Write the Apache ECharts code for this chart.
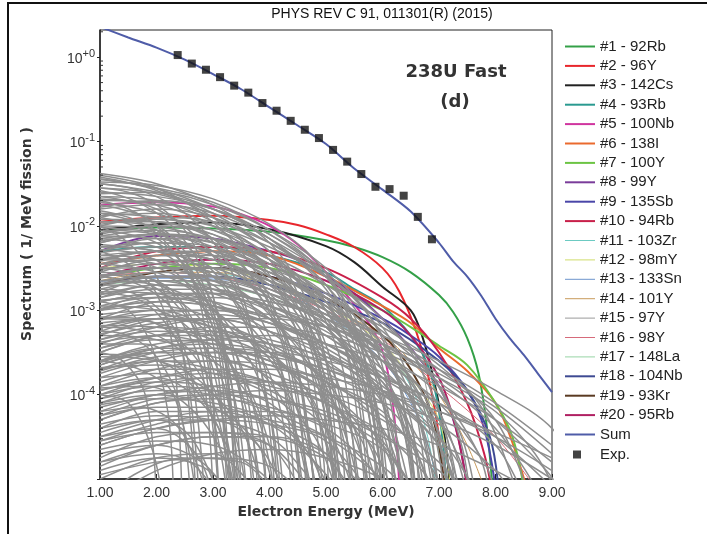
<!DOCTYPE html>
<html>
<head>
<meta charset="utf-8">
<script src="https://cdn.jsdelivr.net/npm/echarts@6/dist/echarts.min.js"></script>
<style>html,body{margin:0;padding:0;background:#fff}#c{width:707px;height:534px}</style>
</head>
<body>
<div id="c"></div>
<script>
// ---------- data (y given as log10 of spectrum) ----------
const xTicks = [1, 2, 3, 4, 5, 6, 7, 8, 9];
const yTickExponents = [-4, -3, -2, -1, 0];

const sumEnergy = [1, 1.5, 2, 2.5, 3, 3.5, 4, 4.5, 5, 5.5, 6, 6.5, 7, 7.25, 7.5, 7.75, 8, 8.25, 8.5, 8.75, 9];
const sumLog = [0.36, 0.233, 0.113, -0.03, -0.2, -0.38, -0.595, -0.81, -1.03, -1.32, -1.57, -1.83, -2.2, -2.42, -2.6, -2.83, -3.1, -3.33, -3.53, -3.75, -3.97];

const expEnergy = [2.375, 2.625, 2.875, 3.125, 3.375, 3.625, 3.875, 4.125, 4.375, 4.625, 4.875, 5.125, 5.375, 5.625, 5.875, 6.125, 6.375, 6.625, 6.875];
const expValue = [1.06, 0.84, 0.71, 0.58, 0.46, 0.38, 0.286, 0.232, 0.176, 0.138, 0.11, 0.0796, 0.0578, 0.0412, 0.0291, 0.0273, 0.0228, 0.0128, 0.00694];

const nuclideNames = ['#1 - 92Rb', '#2 - 96Y', '#3 - 142Cs', '#4 - 93Rb', '#5 - 100Nb', '#6 - 138I', '#7 - 100Y', '#8 - 99Y', '#9 - 135Sb', '#10 - 94Rb',
  '#11 - 103Zr', '#12 - 98mY', '#13 - 133Sn', '#14 - 101Y', '#15 - 97Y', '#16 - 98Y', '#17 - 148La', '#18 - 104Nb', '#19 - 93Kr', '#20 - 95Rb'];
const nuclideColors = ['#34a048', '#e8262c', '#222222', '#2a9a90', '#d0359f', '#ea6a2e', '#6cc444', '#7a3c9a', '#4a46a8', '#c8204a',
  '#6ccac2', '#cfdc6a', '#6c94cc', '#c89a5a', '#9a9a9a', '#d66a7a', '#96d4a4', '#3e4a92', '#5a3a22', '#b02062'];
const nuclideWidths = [2, 2, 2, 2, 2, 2, 2, 2, 2, 2, 1, 1, 1, 1, 1, 1, 1, 2, 2, 2];

const n01 = [[1,-2.05],[2,-2.02],[3,-2.03],[4,-2.07],[5,-2.17],[5.5,-2.25],[6,-2.37],[6.5,-2.55],[7,-2.82],[7.25,-3.02],[7.5,-3.33],[7.7,-3.75],[7.85,-4.4],[7.97,-5.3]];
const n02 = [[1,-1.95],[2,-1.9],[3,-1.88],[4,-1.93],[4.5,-1.99],[5,-2.1],[5.5,-2.25],[6,-2.5],[6.3,-2.78],[6.6,-3.26],[6.8,-3.75],[7.0,-4.5],[7.1,-5.3]];
const n03 = [[1,-2.05],[2,-1.98],[3,-1.96],[4,-2.04],[5,-2.24],[5.5,-2.43],[6,-2.72],[6.5,-3.0],[6.7,-3.3],[6.9,-3.8],[7.1,-4.5],[7.22,-5.3]];
const n04 = [[1,-2.3],[2,-2.25],[3,-2.25],[4,-2.35],[5,-2.55],[5.5,-2.75],[6,-2.95],[6.5,-3.3],[6.8,-3.65],[7.0,-4.2],[7.15,-5.2]];
const n05 = [[1,-1.75],[2,-1.72],[3,-1.77],[3.5,-1.86],[4,-2.0],[4.5,-2.22],[5,-2.55],[5.5,-2.93],[5.85,-3.25],[6.05,-3.6],[6.2,-4.2],[6.3,-5.1]];
const n06 = [[1,-2.45],[2,-2.35],[3,-2.3],[4,-2.35],[5,-2.6],[6,-2.95],[6.5,-3.15],[7,-3.45],[7.5,-3.72],[8,-4.1],[8.3,-4.57],[8.55,-5.1]];
const n07 = [[1,-2.6],[2,-2.5],[3,-2.45],[4,-2.5],[5,-2.7],[6,-3.0],[6.5,-3.2],[7,-3.42],[7.5,-3.65],[8,-4.1],[8.3,-4.5],[8.5,-5.1]];
const n08 = [[1,-2.3],[2,-2.12],[3,-2.15],[4,-2.3],[4.5,-2.4],[5,-2.6],[5.5,-2.8],[6,-3.1],[6.5,-3.45],[7,-3.9],[7.3,-4.4],[7.5,-5.1]];
const n09 = [[1,-2.6],[2,-2.5],[3,-2.5],[4,-2.6],[5,-2.8],[6,-3.1],[6.5,-3.3],[7,-3.55],[7.5,-3.95],[7.8,-4.4],[8.0,-5.1]];
const n10 = [[1,-2.5],[2,-2.3],[3,-2.25],[4,-2.3],[5,-2.5],[6,-2.85],[6.5,-3.1],[7,-3.5],[7.5,-4.1],[7.8,-4.7],[7.95,-5.2]];
const n11 = [[1,-2.6],[2,-2.5],[3,-2.55],[4,-2.7],[5,-3.0],[6,-3.5],[6.5,-3.9],[6.8,-4.5],[6.95,-5.1]];
const n12 = [[1,-2.5],[2,-2.45],[3,-2.5],[4,-2.65],[5,-2.95],[6,-3.4],[6.5,-3.8],[7,-4.3],[7.2,-5.1]];
const n13 = [[1,-2.66],[2,-2.62],[3,-2.63],[4,-2.75],[5,-3.05],[6,-3.6],[6.5,-4.1],[6.8,-4.6],[7.0,-5.1]];
const n14 = [[1,-2.65],[2,-2.55],[3,-2.55],[4,-2.7],[5,-2.95],[6,-3.3],[6.5,-3.6],[7,-4.0],[7.5,-4.6],[7.8,-5.1]];
const n15 = [[1,-2.7],[2,-2.6],[3,-2.6],[4,-2.7],[5,-2.9],[6,-3.2],[6.5,-3.45],[6.8,-4.0],[6.95,-5.1]];
const n16 = [[1,-2.6],[2,-2.55],[3,-2.6],[4,-2.75],[5,-3.0],[6,-3.35],[7,-3.9],[8,-4.5],[8.7,-5.1]];
const n17 = [[1,-2.7],[2,-2.65],[3,-2.7],[4,-2.85],[5,-3.1],[6,-3.5],[6.5,-3.85],[6.9,-4.4],[7.1,-5.1]];
const n18 = [[1,-2.7],[2,-2.6],[3,-2.6],[4,-2.7],[5,-2.9],[6,-3.15],[7,-3.6],[7.5,-3.95],[7.9,-4.5],[8.05,-5.1]];
const n19 = [[1,-2.7],[2,-2.55],[3,-2.5],[4,-2.6],[5,-2.85],[6,-3.3],[6.5,-3.7],[6.9,-4.3],[7.1,-5.1]];
const n20 = [[1,-2.6],[2,-2.45],[3,-2.4],[4,-2.45],[5,-2.65],[6,-3.0],[6.5,-3.3],[7.0,-3.8],[7.3,-4.4],[7.5,-5.1]];
const nuclideCurves = [n01,n02,n03,n04,n05,n06,n07,n08,n09,n10,n11,n12,n13,n14,n15,n16,n17,n18,n19,n20];

// other fission products (grey mesh)
const greyCurves = [
 [[1,-1.38],[2,-1.5],[3,-1.75],[4,-2.2],[4.6,-2.8],[5,-3.6],[5.25,-5.2]],
 [[1,-1.45],[2,-1.55],[3,-1.72],[4,-2.05],[5,-2.6],[5.6,-3.4],[5.9,-4.5],[6.0,-5.2]],
 [[1,-1.5],[1.8,-1.6],[2.6,-1.9],[3.3,-2.5],[3.7,-3.3],[3.95,-5.2]],
 [[1,-1.55],[2,-1.62],[3,-1.85],[4,-2.3],[5,-3.0],[5.5,-3.8],[5.75,-5.2]],
 [[1,-1.6],[2,-1.65],[3,-1.8],[4,-2.1],[5,-2.55],[6,-3.3],[6.4,-4.2],[6.6,-5.2]],
 [[1,-1.65],[2,-1.8],[2.8,-2.2],[3.5,-2.9],[3.9,-3.9],[4.1,-5.2]],
 [[1,-1.7],[2,-1.72],[3,-1.95],[4,-2.4],[4.8,-3.2],[5.2,-4.2],[5.35,-5.2]],
 [[1,-1.8],[2,-1.75],[3,-1.85],[4,-2.15],[5,-2.6],[5.8,-3.3],[6.2,-4.3],[6.35,-5.2]],
 [[1,-1.75],[1.8,-1.9],[2.5,-2.3],[3,-3.0],[3.3,-4.0],[3.45,-5.2]],
 [[1,-1.9],[2,-1.8],[3,-1.9],[4,-2.2],[5,-2.7],[5.6,-3.5],[5.9,-4.6],[6.0,-5.2]],
 [[1,-1.95],[2,-2.0],[3,-2.2],[3.8,-2.7],[4.4,-3.5],[4.7,-4.6],[4.8,-5.2]],
 [[1,-2.0],[2,-1.9],[3,-1.95],[4,-2.2],[5,-2.6],[6,-3.2],[6.5,-3.9],[6.8,-5.2]],
 [[1,-2.05],[2,-2.2],[2.8,-2.7],[3.3,-3.4],[3.6,-4.5],[3.7,-5.2]],
 [[1,-2.1],[2,-2.0],[3,-2.05],[4,-2.35],[5,-2.9],[5.5,-3.6],[5.8,-5.2]],
 [[1,-2.2],[2,-2.1],[3,-2.2],[4,-2.5],[4.8,-3.1],[5.3,-4.2],[5.45,-5.2]],
 [[1,-2.25],[2,-2.3],[2.6,-2.6],[3.1,-3.2],[3.4,-4.2],[3.5,-5.2]],
 [[1,-2.3],[2,-2.15],[3,-2.2],[4,-2.45],[5,-2.85],[6,-3.5],[6.5,-4.3],[6.65,-5.2]],
 [[1,-2.4],[2,-2.3],[3,-2.4],[4,-2.7],[4.7,-3.3],[5.1,-4.4],[5.2,-5.2]],
 [[1,-2.5],[1.8,-2.6],[2.4,-2.9],[2.8,-3.5],[3.0,-4.4],[3.1,-5.2]],
 [[1,-2.5],[2,-2.35],[3,-2.35],[4,-2.55],[5,-2.9],[6,-3.4],[6.8,-4.2],[7.1,-5.2]],
 [[1,-2.6],[2,-2.5],[3,-2.55],[4,-2.85],[4.6,-3.4],[4.9,-4.4],[5.0,-5.2]],
 [[1,-2.7],[2,-2.55],[3,-2.6],[4,-2.8],[5,-3.2],[5.8,-3.9],[6.1,-5.2]],
 [[1,-2.75],[1.6,-2.8],[2.2,-3.1],[2.6,-3.7],[2.85,-5.2]],
 [[1,-2.8],[2,-2.6],[3,-2.6],[4,-2.75],[5,-3.05],[6,-3.5],[7,-4.2],[7.5,-5.2]],
 [[1,-2.9],[2,-2.8],[3,-2.9],[3.8,-3.3],[4.3,-4.0],[4.55,-5.2]],
 [[1,-3.0],[2,-2.8],[3,-2.8],[4,-3.0],[5,-3.3],[6,-3.8],[6.5,-4.4],[6.75,-5.2]],
 [[1,-3.05],[2,-3.0],[2.8,-3.2],[3.4,-3.8],[3.75,-5.2]],
 [[1,-3.1],[2,-2.9],[3,-2.85],[4,-2.95],[5,-3.2],[6,-3.6],[7,-4.1],[7.8,-4.8],[8.0,-5.2]],
 [[1,-3.2],[2,-3.1],[3,-3.2],[4,-3.5],[4.8,-4.2],[5.2,-5.2]],
 [[1,-3.3],[2,-3.1],[3,-3.05],[4,-3.15],[5,-3.4],[6,-3.8],[7,-4.3],[7.6,-5.2]],
 [[1,-3.4],[1.8,-3.4],[2.5,-3.7],[3.0,-4.3],[3.25,-5.2]],
 [[1,-3.5],[2,-3.3],[3,-3.25],[4,-3.35],[5,-3.6],[5.8,-4.1],[6.3,-5.2]],
 [[1,-3.6],[2,-3.5],[3,-3.55],[4,-3.8],[4.6,-4.3],[4.95,-5.2]],
 [[1,-3.7],[2,-3.5],[3,-3.45],[4,-3.5],[5,-3.7],[6,-4.0],[7,-4.5],[7.7,-5.2]],
 [[1,-3.8],[2,-3.75],[2.8,-3.9],[3.5,-4.4],[3.9,-5.2]],
 [[1,-3.9],[2,-3.7],[3,-3.6],[4,-3.65],[5,-3.85],[6,-4.2],[6.6,-4.7],[6.9,-5.2]],
 [[1,-4.0],[2,-3.9],[3,-3.95],[4,-4.2],[4.8,-4.8],[5.1,-5.2]],
 [[1,-4.1],[2,-3.9],[3,-3.8],[4,-3.85],[5,-4.0],[6,-4.3],[7,-4.8],[7.5,-5.2]],
 [[1,-4.2],[1.7,-4.15],[2.4,-4.4],[2.9,-5.2]],
 [[1,-4.3],[2,-4.1],[3,-4.05],[4,-4.15],[5,-4.4],[5.7,-4.8],[6.1,-5.2]],
 [[1,-4.45],[2,-4.3],[3,-4.3],[3.8,-4.6],[4.3,-5.2]],
 [[1,-4.6],[2,-4.4],[3,-4.3],[4,-4.35],[5,-4.55],[5.8,-5.2]],
 [[1,-4.7],[2,-4.6],[2.8,-4.8],[3.3,-5.2]],
 [[1,-4.85],[2,-4.6],[3,-4.5],[4,-4.6],[4.8,-5.2]],
 [[1,-5.0],[2,-4.75],[3,-4.7],[3.8,-5.2]],
 [[1,-2.9],[2,-2.8],[3,-2.8],[4,-2.9],[5,-3.05],[6,-3.3],[7,-3.6],[8,-3.95],[9,-4.4],[9.5,-5.0]],
 [[1,-3.2],[2,-3.05],[3,-3.0],[4,-3.05],[5,-3.2],[6,-3.45],[7,-3.75],[8,-4.15],[9,-4.7]],
 [[1,-3.5],[2,-3.3],[3,-3.2],[4,-3.2],[5,-3.3],[6,-3.5],[7,-3.8],[8,-4.2],[8.7,-4.7],[9.1,-5.2]],
 [[1,-3.6],[2,-3.4],[3,-3.35],[4,-3.4],[5,-3.55],[6,-3.8],[7,-4.1],[8,-4.5],[9,-5.1]],
 [[1,-4.0],[2,-3.8],[3,-3.7],[4,-3.7],[5,-3.8],[6,-3.95],[7,-4.2],[8,-4.5],[9,-4.9]],
 [[1,-2.4],[2,-2.3],[3,-2.35],[4,-2.55],[5,-2.85],[6,-3.2],[7,-3.65],[7.8,-4.2],[8.4,-5.2]],
 [[1,-2.2],[2,-2.1],[3,-2.15],[4,-2.35],[5,-2.7],[6,-3.15],[6.8,-3.7],[7.4,-4.5],[7.65,-5.2]],
 [[1,-2.6],[2,-2.5],[3,-2.5],[4,-2.65],[5,-2.95],[6,-3.3],[7,-3.7],[8,-4.3],[8.6,-5.2]],
 [[1,-3.4],[2,-3.2],[3,-3.1],[4,-3.1],[5,-3.2],[6,-3.4],[7,-3.7],[8,-4.1],[9,-4.6]],
 [[1,-4.3],[2,-4.1],[3,-4.0],[4,-3.95],[5,-4.0],[6,-4.1],[7,-4.3],[8,-4.6],[9,-5.0]],
 [[1,-1.85],[2,-2.05],[2.6,-2.5],[3.0,-3.1],[3.3,-4.2],[3.4,-5.2]],
 [[1,-2.15],[2,-2.25],[3,-2.6],[3.6,-3.2],[4.0,-4.2],[4.15,-5.2]],
 [[1,-2.35],[2,-2.4],[3,-2.6],[4,-3.05],[4.5,-3.7],[4.8,-5.2]],
 [[1,-2.45],[2,-2.35],[3,-2.4],[4,-2.65],[5,-3.1],[5.7,-3.9],[6.0,-5.2]],
 [[1,-2.55],[2,-2.65],[2.5,-2.95],[2.9,-3.6],[3.1,-5.2]],
 [[1,-2.65],[2,-2.6],[3,-2.75],[4,-3.1],[4.8,-3.8],[5.2,-5.2]],
 [[1,-2.85],[2,-2.7],[3,-2.75],[4,-2.95],[5,-3.3],[6,-3.85],[6.4,-4.5],[6.6,-5.2]],
 [[1,-2.95],[2,-3.0],[2.7,-3.3],[3.2,-3.9],[3.5,-5.2]],
 [[1,-3.15],[2,-3.1],[3,-3.15],[4,-3.4],[5,-3.85],[5.5,-4.4],[5.75,-5.2]],
 [[1,-3.35],[2,-3.2],[3,-3.25],[4,-3.45],[5,-3.8],[6,-4.4],[6.4,-5.2]],
 [[1,-3.55],[2,-3.6],[2.7,-3.8],[3.3,-4.3],[3.6,-5.2]],
 [[1,-3.75],[2,-3.6],[3,-3.6],[4,-3.75],[5,-4.05],[5.6,-4.5],[5.95,-5.2]],
 [[1,-3.95],[2,-3.85],[3,-3.9],[4,-4.1],[4.5,-4.5],[4.75,-5.2]],
 [[1,-4.15],[2,-4.0],[3,-3.95],[4,-4.05],[5,-4.25],[6,-4.6],[6.6,-5.2]],
 [[1,-4.4],[2,-4.3],[2.6,-4.5],[3.1,-5.2]],
 [[1,-4.55],[2,-4.35],[3,-4.25],[4,-4.3],[5,-4.5],[6,-4.85],[6.5,-5.2]],
 [[1,-4.75],[2,-4.5],[3,-4.45],[4,-4.5],[5,-4.75],[5.5,-5.2]],
 [[1,-4.9],[2,-4.75],[2.8,-4.85],[3.4,-5.2]],
 [[1,-1.72],[2,-1.85],[3,-2.15],[3.8,-2.7],[4.3,-3.5],[4.6,-4.6],[4.7,-5.2]],
 [[1,-2.05],[2,-2.1],[3,-2.35],[4,-2.8],[4.8,-3.5],[5.3,-4.5],[5.45,-5.2]],
 [[1,-3.25],[1.5,-3.3],[2.0,-3.55],[2.4,-4.1],[2.6,-5.2]],
 [[1,-2.0],[1.5,-2.2],[2.0,-2.6],[2.4,-3.3],[2.6,-4.3],[2.7,-5.2]],
 [[1,-4.6],[2,-4.4],[3,-4.3],[4,-4.25],[5,-4.3],[6,-4.4],[7,-4.6],[8,-4.9],[8.8,-5.2]],
 [[1,-3.8],[2,-3.6],[3,-3.5],[4,-3.5],[5,-3.6],[6,-3.8],[7,-4.1],[8,-4.6],[8.5,-5.2]],
 [[1,-3.0],[2,-2.9],[3,-2.95],[4,-3.15],[5,-3.45],[6,-3.9],[7,-4.5],[7.4,-5.2]],
 [[1,-1.42],[2,-1.58],[3,-1.9],[3.8,-2.4],[4.4,-3.1],[4.8,-4.3],[4.95,-5.2]],
 [[1,-1.48],[2,-1.52],[3,-1.68],[4,-1.98],[4.8,-2.4],[5.4,-3.0],[5.8,-3.9],[6.05,-5.2]],
 [[1,-1.58],[1.6,-1.7],[2.2,-1.95],[2.8,-2.5],[3.2,-3.4],[3.4,-5.2]],
 [[1,-1.62],[2,-1.6],[3,-1.75],[4,-2.05],[5,-2.5],[5.8,-3.1],[6.3,-3.9],[6.55,-5.2]],
 [[1,-1.68],[2,-1.75],[3,-2.0],[4,-2.5],[4.6,-3.1],[5.0,-4.1],[5.15,-5.2]],
 [[1,-1.78],[2,-1.7],[3,-1.8],[4,-2.1],[5,-2.6],[5.6,-3.2],[6.0,-4.0],[6.2,-5.2]],
 [[1,-1.82],[1.7,-1.95],[2.3,-2.3],[2.8,-2.9],[3.1,-3.8],[3.25,-5.2]],
 [[1,-1.88],[2,-1.85],[3,-2.0],[4,-2.35],[4.8,-2.9],[5.3,-3.7],[5.55,-5.2]],
 [[1,-1.92],[2,-1.95],[3,-2.1],[4,-2.5],[4.6,-3.0],[5.0,-3.9],[5.2,-5.2]],
 [[1,-2.0],[2,-2.05],[2.8,-2.4],[3.5,-3.0],[4.0,-3.9],[4.25,-5.2]],
 [[1,-2.08],[2,-2.0],[3,-2.1],[4,-2.4],[5,-2.85],[5.8,-3.6],[6.2,-4.5],[6.35,-5.2]],
 [[1,-2.12],[2,-2.15],[3,-2.35],[3.9,-2.9],[4.5,-3.7],[4.8,-5.2]],
 [[1,-2.18],[2,-2.1],[3,-2.15],[4,-2.4],[5,-2.8],[6,-3.4],[6.6,-4.2],[6.9,-5.2]],
 [[1,-2.28],[1.8,-2.35],[2.5,-2.65],[3.0,-3.2],[3.4,-4.1],[3.6,-5.2]],
 [[1,-2.32],[2,-2.25],[3,-2.3],[4,-2.55],[5,-2.95],[5.7,-3.5],[6.1,-4.4],[6.25,-5.2]],
 [[1,-2.38],[2,-2.45],[3,-2.7],[3.8,-3.2],[4.3,-3.9],[4.6,-5.2]],
 [[1,-2.42],[2,-2.3],[3,-2.3],[4,-2.5],[5,-2.8],[6,-3.25],[7,-3.9],[7.4,-4.6],[7.55,-5.2]],
 [[1,-2.52],[2,-2.45],[3,-2.55],[4,-2.8],[5,-3.2],[5.6,-3.8],[5.95,-5.2]],
 [[1,-2.58],[1.6,-2.62],[2.3,-2.9],[2.9,-3.5],[3.2,-4.4],[3.35,-5.2]],
 [[1,-2.62],[2,-2.5],[3,-2.5],[4,-2.7],[5,-3.0],[6,-3.45],[6.8,-4.1],[7.2,-5.2]],
 [[1,-2.68],[2,-2.65],[3,-2.8],[4,-3.1],[4.7,-3.6],[5.1,-4.4],[5.3,-5.2]],
 [[1,-2.72],[2,-2.6],[3,-2.65],[4,-2.85],[5,-3.15],[6,-3.6],[6.6,-4.2],[6.95,-5.2]],
 [[1,-2.78],[2,-2.8],[2.7,-3.05],[3.3,-3.6],[3.7,-4.5],[3.85,-5.2]],
 [[1,-2.82],[2,-2.7],[3,-2.7],[4,-2.85],[5,-3.1],[6,-3.5],[7,-4.0],[7.7,-4.7],[7.9,-5.2]],
 [[1,-2.88],[2,-2.85],[3,-2.95],[4,-3.25],[4.9,-3.8],[5.4,-4.6],[5.6,-5.2]],
 [[1,-2.98],[2,-2.9],[3,-2.95],[4,-3.1],[5,-3.4],[6,-3.85],[6.3,-4.2],[6.55,-5.2]],
 [[1,-3.08],[1.7,-3.1],[2.4,-3.35],[3.0,-3.9],[3.3,-4.7],[3.4,-5.2]],
 [[1,-3.12],[2,-3.0],[3,-3.0],[4,-3.15],[5,-3.4],[6,-3.75],[7,-4.3],[7.35,-5.2]],
 [[1,-3.18],[2,-3.2],[3,-3.35],[3.8,-3.7],[4.4,-4.3],[4.7,-5.2]],
 [[1,-3.28],[2,-3.15],[3,-3.1],[4,-3.25],[5,-3.5],[6,-3.95],[6.7,-4.6],[7.0,-5.2]],
 [[1,-3.38],[2,-3.3],[3,-3.4],[4,-3.6],[5,-4.0],[5.5,-4.5],[5.8,-5.2]],
 [[1,-3.45],[2,-3.3],[3,-3.3],[4,-3.4],[5,-3.65],[6,-4.0],[7,-4.6],[7.35,-5.2]],
 [[1,-3.52],[1.8,-3.55],[2.5,-3.8],[3.1,-4.4],[3.4,-5.2]],
 [[1,-3.62],[2,-3.45],[3,-3.4],[4,-3.5],[5,-3.75],[6,-4.1],[6.5,-4.5],[6.85,-5.2]],
 [[1,-3.68],[2,-3.65],[3,-3.75],[4,-4.0],[4.8,-4.5],[5.2,-5.2]],
 [[1,-3.72],[2,-3.55],[3,-3.5],[4,-3.55],[5,-3.7],[6,-3.95],[7,-4.35],[8,-4.9],[8.3,-5.2]],
 [[1,-3.85],[2,-3.7],[3,-3.7],[4,-3.85],[5,-4.1],[5.8,-4.6],[6.2,-5.2]],
 [[1,-3.92],[1.8,-3.9],[2.5,-4.1],[3.1,-4.6],[3.4,-5.2]],
 [[1,-4.05],[2,-3.85],[3,-3.8],[4,-3.9],[5,-4.1],[6,-4.45],[6.7,-4.9],[7.0,-5.2]],
 [[1,-4.12],[2,-4.05],[3,-4.1],[4,-4.3],[4.7,-4.7],[5.0,-5.2]],
 [[1,-4.25],[2,-4.05],[3,-4.0],[4,-4.05],[5,-4.2],[6,-4.5],[7,-4.9],[7.4,-5.2]],
 [[1,-4.35],[2,-4.25],[3,-4.3],[4,-4.5],[4.6,-4.9],[4.9,-5.2]],
 [[1,-4.5],[2,-4.3],[3,-4.2],[4,-4.2],[5,-4.35],[6,-4.65],[6.6,-5.2]],
 [[1,-4.65],[2,-4.55],[3,-4.6],[3.8,-4.9],[4.2,-5.2]],
 [[1,-4.8],[2,-4.6],[3,-4.5],[4,-4.5],[5,-4.7],[5.8,-5.2]],
 [[1,-4.95],[2,-4.8],[3,-4.75],[4,-4.85],[4.6,-5.2]],
 [[1,-5.3],[2,-4.9],[3,-4.7],[4,-4.65],[5,-4.75],[6,-5.0],[6.5,-5.3]],
 [[1,-5.3],[1.6,-4.95],[2.5,-4.75],[3.5,-4.8],[4.2,-5.3]],
 [[1,-2.25],[2,-2.2],[3,-2.3],[4,-2.6],[5,-3.0],[6,-3.55],[6.6,-4.2],[7.05,-5.2]],
 [[1,-2.45],[2,-2.4],[3,-2.5],[4,-2.75],[5,-3.1],[6,-3.6],[6.9,-4.3],[7.3,-5.2]],
 [[1,-3.65],[2,-3.45],[3,-3.35],[4,-3.3],[5,-3.4],[6,-3.6],[7,-3.9],[8,-4.3],[9,-4.8]],
 [[1,-4.2],[2,-4.0],[3,-3.9],[4,-3.85],[5,-3.9],[6,-4.0],[7,-4.2],[8,-4.45],[9,-4.75]],
 [[1,-2.75],[2,-2.65],[3,-2.65],[4,-2.8],[5,-3.05],[6,-3.4],[7,-3.85],[8,-4.4],[8.8,-5.2]],
 [[1,-1.98],[2,-1.92],[3,-2.0],[4,-2.25],[5,-2.6],[6,-3.1],[6.6,-3.6],[7.1,-4.4],[7.3,-5.2]],
 [[1,-3.0],[2,-2.85],[3,-2.8],[4,-2.9],[5,-3.1],[6,-3.4],[7,-3.8],[8,-4.3],[8.9,-4.9],[9.2,-5.2]],
 [[1,-2.3],[1.5,-2.45],[2.0,-2.8],[2.3,-3.5],[2.45,-5.2]],
 [[1,-2.9],[1.5,-3.0],[1.9,-3.4],[2.2,-4.2],[2.3,-5.2]],
 [[1,-3.5],[1.4,-3.6],[1.8,-4.0],[2.0,-5.2]],
 [[1,-4.0],[1.5,-4.1],[1.9,-4.6],[2.1,-5.2]],
 [[1,-2.6],[1.7,-2.7],[2.3,-3.0],[2.8,-3.7],[3.0,-5.2]],
 [[1,-3.2],[1.8,-3.25],[2.6,-3.6],[3.1,-4.3],[3.3,-5.2]],
 [[1,-3.9],[2,-3.8],[2.8,-4.1],[3.3,-4.7],[3.5,-5.2]],
 [[1,-4.5],[2,-4.4],[2.7,-4.7],[3.0,-5.2]],
 [[1,-2.15],[2,-2.1],[3,-2.3],[3.8,-2.8],[4.3,-3.6],[4.55,-5.2]],
 [[1,-2.7],[2,-2.75],[3,-3.0],[3.8,-3.5],[4.2,-4.2],[4.4,-5.2]],
 [[1,-3.3],[2,-3.35],[3,-3.6],[3.7,-4.1],[4.1,-5.2]],
 [[1,-4.1],[2,-4.0],[3,-4.15],[3.8,-4.6],[4.1,-5.2]],
 [[1,-1.95],[2,-1.95],[3,-2.15],[4,-2.6],[4.8,-3.3],[5.3,-4.3],[5.5,-5.2]],
 [[1,-2.5],[2,-2.5],[3,-2.65],[4,-3.0],[5,-3.6],[5.4,-4.3],[5.6,-5.2]],
 [[1,-3.1],[2,-3.05],[3,-3.2],[4,-3.5],[4.8,-4.1],[5.35,-5.2]],
 [[1,-3.7],[2,-3.6],[3,-3.7],[4,-3.95],[5,-4.4],[5.5,-5.2]],
 [[1,-4.4],[2,-4.2],[3,-4.2],[4,-4.35],[5,-4.7],[5.4,-5.2]],
 [[1,-2.35],[2,-2.3],[3,-2.4],[4,-2.7],[5,-3.15],[5.8,-3.8],[6.3,-4.8],[6.4,-5.2]],
 [[1,-2.95],[2,-2.85],[3,-2.9],[4,-3.1],[5,-3.5],[6,-4.1],[6.5,-5.2]],
 [[1,-3.45],[2,-3.35],[3,-3.4],[4,-3.6],[5,-3.95],[6,-4.6],[6.3,-5.2]],
 [[1,-4.05],[2,-3.95],[3,-4.0],[4,-4.2],[5,-4.5],[6,-5.0],[6.2,-5.2]],
 [[1,-1.55],[1.5,-1.6],[2.0,-1.75],[2.5,-2.05],[2.9,-2.6],[3.2,-3.5],[3.4,-5.2]],
 [[1,-1.7],[1.5,-1.8],[2.0,-2.0],[2.5,-2.4],[2.8,-3.0],[3.0,-4.0],[3.1,-5.2]],
 [[1,-1.65],[2,-1.7],[3,-1.9],[4,-2.3],[4.5,-2.8],[4.9,-3.8],[5.05,-5.2]],
 [[1,-1.85],[2,-1.9],[3,-2.05],[4,-2.4],[5,-3.0],[5.4,-3.6],[5.7,-5.2]],
 [[1,-2.02],[2,-2.08],[3,-2.25],[4,-2.65],[4.6,-3.2],[5.0,-4.3],[5.15,-5.2]],
 [[1,-2.22],[2,-2.3],[3,-2.5],[3.7,-2.95],[4.2,-3.7],[4.45,-5.2]],
 [[1,-2.4],[1.8,-2.45],[2.6,-2.7],[3.2,-3.2],[3.6,-4.0],[3.8,-5.2]],
 [[1,-2.65],[2,-2.7],[2.8,-2.95],[3.4,-3.5],[3.8,-4.4],[3.95,-5.2]],
 [[1,-3.0],[2,-2.95],[3,-3.1],[3.9,-3.5],[4.5,-4.2],[4.85,-5.2]],
 [[1,-3.35],[2,-3.25],[3,-3.3],[4,-3.55],[4.7,-4.0],[5.25,-5.2]],
 [[1,-3.65],[2,-3.5],[3,-3.5],[4,-3.65],[5,-3.95],[5.7,-4.5],[6.05,-5.2]],
 [[1,-3.95],[2,-3.8],[3,-3.75],[4,-3.85],[5,-4.1],[6,-4.55],[6.45,-5.2]],
 [[1,-4.25],[2,-4.15],[3,-4.15],[4,-4.35],[4.8,-4.8],[5.3,-5.2]],
 [[1,-4.55],[2,-4.45],[3,-4.45],[4,-4.6],[4.6,-5.2]],
 [[1,-4.8],[2,-4.7],[2.6,-4.8],[3.1,-5.2]],
 [[1,-2.12],[2,-2.05],[3,-2.15],[4,-2.45],[5,-2.9],[5.9,-3.6],[6.5,-4.5],[6.7,-5.2]],
 [[1,-2.55],[2,-2.4],[3,-2.45],[4,-2.65],[5,-3.0],[6,-3.5],[6.7,-4.1],[7.0,-5.2]],
 [[1,-2.85],[2,-2.75],[3,-2.75],[4,-2.95],[5,-3.25],[6,-3.7],[6.9,-4.4],[7.15,-5.2]],
 [[1,-3.25],[2,-3.1],[3,-3.1],[4,-3.25],[5,-3.55],[6,-3.95],[7,-4.6],[7.3,-5.2]],
 [[1,-3.6],[2,-3.45],[3,-3.45],[4,-3.6],[5,-3.85],[6,-4.25],[6.8,-4.8],[7.1,-5.2]],
 [[1,-1.5],[2,-1.6],[3,-1.8],[4,-2.15],[5,-2.7],[5.5,-3.2],[5.9,-4.2],[6.05,-5.2]],
 [[1,-1.4],[2,-1.55],[2.8,-1.85],[3.5,-2.3],[4.1,-3.0],[4.5,-4.0],[4.65,-5.2]],
 [[1,-1.44],[2,-1.56],[3,-1.8],[4,-2.15],[5,-2.75],[5.5,-3.4],[5.8,-4.4],[5.9,-5.2]],
 [[1,-2.3],[2,-2.2],[3,-2.25],[4,-2.5],[5,-2.95],[5.9,-3.6],[6.4,-4.4],[6.6,-5.2]],
 [[1,-1.9],[1.6,-2.0],[2.2,-2.25],[2.7,-2.7],[3.1,-3.5],[3.3,-5.2]],
 [[1,-2.8],[1.6,-2.85],[2.1,-3.1],[2.5,-3.6],[2.75,-5.2]],
 [[1,-3.6],[1.7,-3.7],[2.3,-4.0],[2.7,-5.2]],
 [[1,-2.45],[2,-2.55],[2.8,-2.85],[3.5,-3.4],[4.0,-4.2],[4.2,-5.2]],
 [[1,-3.1],[2,-3.15],[2.9,-3.4],[3.6,-3.9],[4.0,-4.6],[4.2,-5.2]]
];

// ---------- build ----------
const toPts = c => c.map(p => [p[0], Math.pow(10, p[1])]);
const thickIcon = 'path://M0,0H30V2H0Z';
const thinIcon = 'path://M0,0H30V1H0Z';
const series = [];
nuclideCurves.forEach((c, i) => {
  series.push({ name: nuclideNames[i], type: 'line', data: toPts(c), smooth: 0.35, symbol: 'none', clip: true,
    lineStyle: { color: nuclideColors[i], width: nuclideWidths[i] }, itemStyle: { color: nuclideColors[i] }, z: 2 });
});
greyCurves.forEach((c, i) => {
  series.push({ name: 'other' + i, type: 'line', data: toPts(c), smooth: 0.35, symbol: 'none', clip: true, silent: true,
    lineStyle: { color: '#8e8e8e', width: 1.5 }, z: 3 });
});
series.push({ name: 'Sum', type: 'line', data: sumEnergy.map((x, i) => [x, Math.pow(10, sumLog[i])]), smooth: 0.3, symbol: 'none', clip: true,
  lineStyle: { color: '#4f5ca8', width: 2 }, itemStyle: { color: '#4f5ca8' }, z: 5 });
series.push({ name: 'Exp.', type: 'scatter', data: expEnergy.map((x, i) => [x, expValue[i]]), symbol: 'rect', symbolSize: 8,
  itemStyle: { color: '#141414' }, z: 6 });
// minor log ticks on the y axis
const minorTicks = [];
for (let k = -5; k <= 0; k++) for (let m = 2; m <= 9; m++) { const v = m * Math.pow(10, k); if (v < 2.1) minorTicks.push([1, v]); }
series.push({ type: 'custom', data: minorTicks, silent: true, z: 7, renderItem: (params, api) => {
  const p = api.coord([api.value(0), api.value(1)]);
  return { type: 'line', shape: { x1: p[0], y1: p[1], x2: p[0] + 3, y2: p[1] }, style: { stroke: '#333', lineWidth: 1 } };
}});

const legendLines = nuclideNames.map((n, i) => ({ name: n, icon: nuclideWidths[i] > 1 ? thickIcon : thinIcon }))
  .concat([{ name: 'Sum', icon: thickIcon }]);

const chart = echarts.init(document.getElementById('c'), null, { renderer: 'canvas' });
chart.setOption({
  animation: false,
  backgroundColor: '#fff',
  grid: { left: 100, top: 30, right: 155, bottom: 55, show: true, borderColor: '#222', borderWidth: 1, backgroundColor: 'transparent' },
  xAxis: {
    type: 'value', min: 1, max: 9, interval: 1,
    name: 'Electron Energy (MeV)', nameLocation: 'middle', nameGap: 26,
    nameTextStyle: { fontFamily: 'DejaVu Sans', fontWeight: 'bold', fontSize: 14, color: '#333' },
    axisLine: { show: true, lineStyle: { color: '#222', width: 1.5 } },
    axisTick: { show: true, inside: true, length: 5, lineStyle: { color: '#222' } },
    splitLine: { show: false },
    axisLabel: { margin: 7, fontFamily: 'Liberation Sans', fontSize: 14, color: '#333', formatter: v => v.toFixed(2) }
  },
  yAxis: {
    type: 'log', logBase: 10, min: 1e-5, max: 2.1,
    axisLine: { show: true, lineStyle: { color: '#222', width: 1.5 } },
    axisTick: { show: true, length: 3, lineStyle: { color: '#222' } },
    splitLine: { show: false },
    axisLabel: {
      margin: 5, showMaxLabel: false,
      formatter: v => {
        const lg = Math.log10(v);
        const k = Math.round(lg);
        if (Math.abs(lg - k) > 1e-6 || yTickExponents.indexOf(k) < 0) return '';
        return '{b|10}{s|' + (k === 0 ? '+0' : String(k)) + '}';
      },
      rich: {
        b: { fontFamily: 'Liberation Sans', fontSize: 14, color: '#333', verticalAlign: 'bottom', lineHeight: 18 },
        s: { fontFamily: 'Liberation Sans', fontSize: 11, color: '#333', verticalAlign: 'top', lineHeight: 18 }
      }
    }
  },
  legend: [{
    orient: 'vertical', left: 565, top: 39, padding: 0, itemWidth: 30, itemHeight: 14, itemGap: 4.4,
    data: legendLines, symbolKeepAspect: true,
    textStyle: { fontFamily: 'Liberation Sans', fontSize: 15, color: '#222', lineHeight: 14 },
    selectedMode: false
  }, {
    orient: 'vertical', left: 573, top: 447, padding: 0, itemWidth: 8, itemHeight: 8,
    data: [{ name: 'Exp.', icon: 'rect' }],
    textStyle: { fontFamily: 'Liberation Sans', fontSize: 15, color: '#222', lineHeight: 14, padding: [0, 0, 0, 14] },
    selectedMode: false
  }],
  graphic: [
    { type: 'rect', shape: { x: 8, y: 3, width: 720, height: 560 }, style: { fill: 'none', stroke: '#111', lineWidth: 2 }, silent: true },
    { type: 'text', x: 382, y: 14, style: { text: 'PHYS REV C 91, 011301(R) (2015)', fontFamily: 'Liberation Sans', fontSize: 14, fill: '#111', align: 'center', verticalAlign: 'middle' } },
    { type: 'text', x: 456, y: 72, style: { text: '238U Fast', fontFamily: 'DejaVu Sans', fontWeight: 'bold', fontSize: 18, fill: '#333', align: 'center', verticalAlign: 'middle' } },
    { type: 'text', x: 455, y: 102, style: { text: '(d)', fontFamily: 'DejaVu Sans', fontWeight: 'bold', fontSize: 18, fill: '#333', align: 'center', verticalAlign: 'middle' } },
    { type: 'text', x: 27, y: 234, rotation: Math.PI / 2, style: { text: 'Spectrum ( 1/ MeV fission )', fontFamily: 'DejaVu Sans', fontWeight: 'bold', fontSize: 14, fill: '#333', align: 'center', verticalAlign: 'middle' } }
  ],
  series: series
});
</script>
</body>
</html>
